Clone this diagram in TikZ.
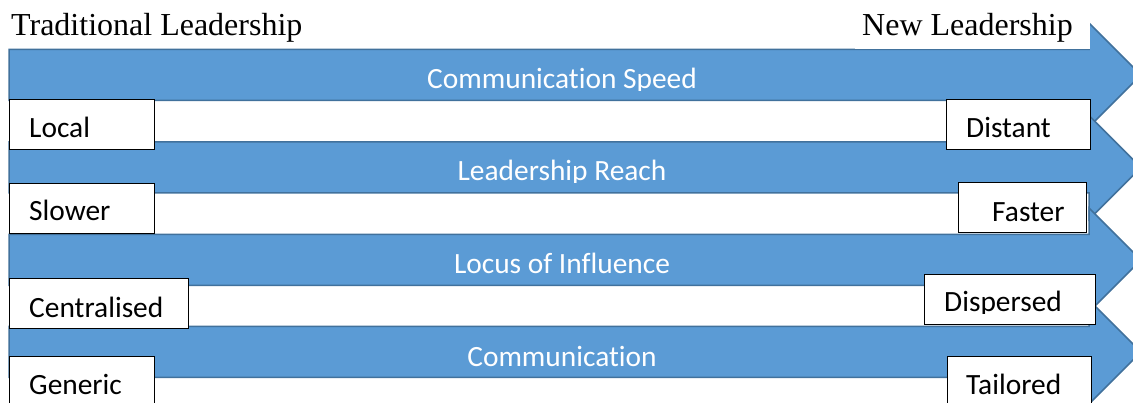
\documentclass[tikz,border=0pt]{standalone}
\usepackage{fontspec}
\setmainfont{Carlito}[Ligatures=NoCommon]
\newfontfamily\serifhead{Liberation Serif}
\definecolor{arrowfill}{HTML}{5B9BD5}
\definecolor{arrowline}{HTML}{41719C}
\begin{document}
\begin{tikzpicture}[x=1pt,y=-1pt,
  band/.style={fill=arrowfill,draw=arrowline,line width=1.5pt,line join=miter},
  endbox/.style={draw=black,fill=white,line width=1.4pt,inner sep=0pt,
    anchor=north west,minimum height=50pt},
  endtext/.style={font=\fontsize{29.4}{34}\selectfont,inner sep=0pt,anchor=base west},
  bandtext/.style={font=\fontsize{29.4}{34}\selectfont,text=white,inner sep=0pt,anchor=base},
  headtext/.style={font=\serifhead\fontsize{32}{37}\selectfont,inner sep=0pt,anchor=base west}]
\useasboundingbox (0,0) rectangle (1133,403);
\clip (0,0) rectangle (1133,403);

% four block arrows, shaft half-height 25.5, head half-height 52
\foreach \c in {75,167.5,260,352}{
  \draw[band] (9,\c-25.5) -- (1089,\c-25.5) -- (1089,\c-52) -- (1141,\c)
    -- (1089,\c+52) -- (1089,\c+25.5) -- (9,\c+25.5) -- cycle;
}

% heading row
\fill[white] (855,3) rectangle (1089.5,49.5);
\node[headtext] (trad) at (11,35.5) {Traditional Leadership};
\node[headtext] (new) at (862,35.5) {New Leadership};

% labels on the arrows (their frames cut the descenders)
\begin{scope}
  \clip (0,0) rectangle (1133,91);
  \node[bandtext] (speed) at (562,88.5) {Communication Speed};
\end{scope}
\begin{scope}
  \clip (0,100) rectangle (1133,183);
  \node[bandtext] (reach) at (562,180.5) {Leadership Reach};
\end{scope}
\node[bandtext] (locus) at (562,274) {Locus of Influence};
\node[bandtext] (comm) at (562,366.5) {Communication};

% end boxes, left side
\node[endbox,minimum width=145pt] (localbox) at (9,99) {};
\node[endbox,minimum width=145pt] (slowerbox) at (9,183) {};
\node[endbox,minimum width=179pt] (centralbox) at (9,278) {};
\node[endbox,minimum width=145pt] (genericbox) at (9,356) {};
\node[endtext] (local) at (29,138) {Local};
\node[endtext] (slower) at (29,221) {Slower};
\node[endtext] (central) at (29,318) {Centralised};
\node[endtext] (generic) at (29,395) {Generic};

% end boxes, right side
\node[endbox,minimum width=144pt] (distantbox) at (946,99) {};
\node[endbox,minimum width=128pt] (fasterbox) at (958,182) {};
\node[endbox,minimum width=171pt] (dispersedbox) at (924,274) {};
\node[endbox,minimum width=144pt] (tailoredbox) at (947,356) {};
\node[endtext] (distant) at (966,138) {Distant};
\node[endtext] (faster) at (992,222) {Faster};
\begin{scope}
  \clip (900,250) rectangle (1133,314);
  \node[endtext] (dispersed) at (944,312) {Dispersed};
\end{scope}
\node[endtext] (tailored) at (966,395) {Tailored};
\end{tikzpicture}
\end{document}
